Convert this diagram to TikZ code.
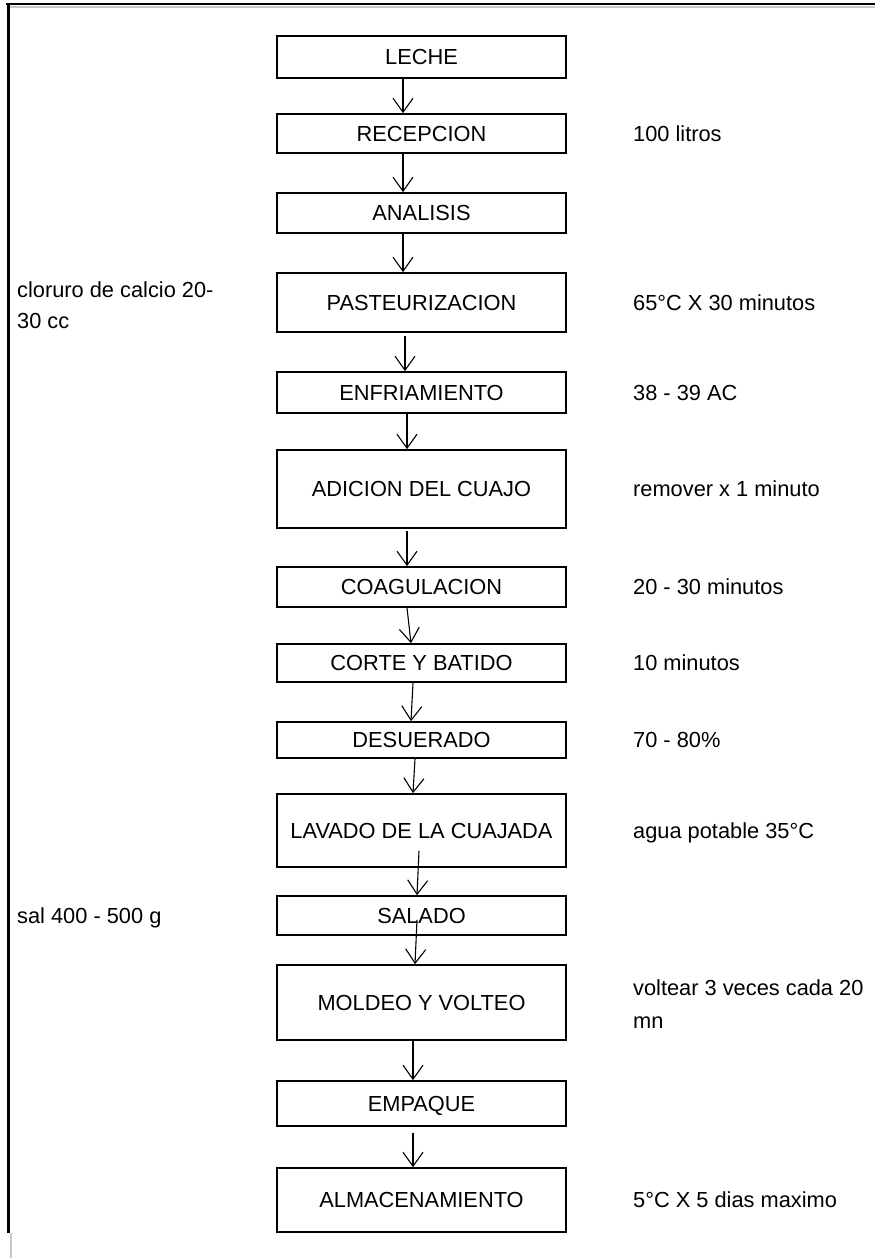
\documentclass[tikz,border=0pt]{standalone}
\usepackage{fontspec}
\setmainfont{Liberation Sans}
\usetikzlibrary{arrows.meta}
\begin{document}
\begin{tikzpicture}[x=1pt,y=-1pt,
  every node/.style={font=\fontsize{21.8}{26}\selectfont, inner sep=0pt},
  stepbox/.style={draw, line width=1.7pt, minimum width=289pt, text height=15.7pt, text depth=0pt},
  flow/.style={line width=1.1pt, -{Straight Barb[length=14pt,width=20pt]}},
  note/.style={anchor=base west},
  frameline/.style={line width=2.7pt},
  gridline/.style={line width=2pt, black!22}]
\useasboundingbox (0,0) rectangle (875,1258);
% frame
\draw[gridline] (10,6.5) -- (875,6.5);
\draw[gridline] (11.3,1233) -- (11.3,1258);
\draw[frameline] (6,4) -- (875,4);
\draw[frameline] (8.7,3) -- (8.7,1233);
% boxes
\node[stepbox, minimum height=42pt] (leche) at (421.5,57) {LECHE};
\node[stepbox, minimum height=39pt] (recep) at (421.5,133.5) {RECEPCION};
\node[stepbox, minimum height=40pt] (anal) at (421.5,213) {ANALISIS};
\node[stepbox, minimum height=59pt] (past) at (421.5,302.5) {PASTEURIZACION};
\node[stepbox, minimum height=41pt] (enfr) at (421.5,392.5) {ENFRIAMIENTO};
\node[stepbox, minimum height=78pt] (adic) at (421.5,489) {ADICION DEL CUAJO};
\node[stepbox, minimum height=40pt] (coag) at (421.5,587) {COAGULACION};
\node[stepbox, minimum height=38pt] (corte) at (421.5,663) {CORTE Y BATIDO};
\node[stepbox, minimum height=36pt] (desu) at (421.5,740) {DESUERADO};
\node[stepbox, minimum height=73pt] (lav) at (421.5,830.5) {LAVADO DE LA CUAJADA};
\node[stepbox, minimum height=39pt] (sal) at (421.5,915.5) {SALADO};
\node[stepbox, minimum height=75pt] (mold) at (421.5,1002.5) {MOLDEO Y VOLTEO};
\node[stepbox, minimum height=45pt] (emp) at (421.5,1103.5) {EMPAQUE};
\node[stepbox, minimum height=64pt] (alm) at (421.5,1200) {ALMACENAMIENTO};
% arrows
\draw[flow] ([xshift=-18.5pt]leche.south) -- ([xshift=-18.5pt]recep.north);
\draw[flow] ([xshift=-18.5pt]recep.south) -- ([xshift=-18.5pt]anal.north);
\draw[flow] ([xshift=-18.5pt]anal.south) -- ([xshift=-18.5pt]past.north);
\draw[flow] ([xshift=-16.5pt,yshift=-3pt]past.south) -- ([xshift=-16.5pt]enfr.north);
\draw[flow] ([xshift=-14.5pt]enfr.south) -- ([xshift=-14.5pt]adic.north);
\draw[flow] ([xshift=-14.5pt,yshift=-2pt]adic.south) -- ([xshift=-14.5pt]coag.north);
\draw[flow] ([xshift=-14.5pt]coag.south) -- ([xshift=-10.5pt]corte.north);
\draw[flow] ([xshift=-8.5pt]corte.south) -- ([xshift=-10.5pt]desu.north);
\draw[flow] ([xshift=-6.5pt]desu.south) -- ([xshift=-8.5pt]lav.north);
\draw[flow] ([xshift=-2.5pt,yshift=17pt]lav.south) -- ([xshift=-4.5pt]sal.north);
\draw[flow] ([xshift=-4.5pt,yshift=16pt]sal.south) -- ([xshift=-6.5pt]mold.north);
\draw[flow] ([xshift=-8.5pt]mold.south) -- ([xshift=-8.5pt]emp.north);
\draw[flow] ([xshift=-8.5pt,yshift=-6pt]emp.south) -- ([xshift=-8.5pt]alm.north);
% right notes
\node[note] (n1) at (633,141.3) {100 litros};
\node[note] (n2) at (633,310.3) {65°C X 30 minutos};
\node[note] (n3) at (633,400.3) {38 - 39 AC};
\node[note] (n4) at (633,496.8) {remover x 1 minuto};
\node[note] (n5) at (633,594.8) {20 - 30 minutos};
\node[note] (n6) at (633,670.8) {10 minutos};
\node[note] (n7) at (633,747.8) {70 - 80\%};
\node[note] (n8) at (633,838.3) {agua potable 35°C};
\node[note, align=left, font=\fontsize{21.8}{33}\selectfont] (n9) at (633,1028) {voltear 3 veces cada 20\\mn};
\node[note] (n10) at (633,1207.8) {5°C X 5 dias maximo};
% left notes
\node[note, align=left, font=\fontsize{21.8}{31}\selectfont] (l1) at (17,328) {cloruro de calcio 20-\\30 cc};
\node[note] (l2) at (17,923.3) {sal 400 - 500 g};
\end{tikzpicture}
\end{document}
